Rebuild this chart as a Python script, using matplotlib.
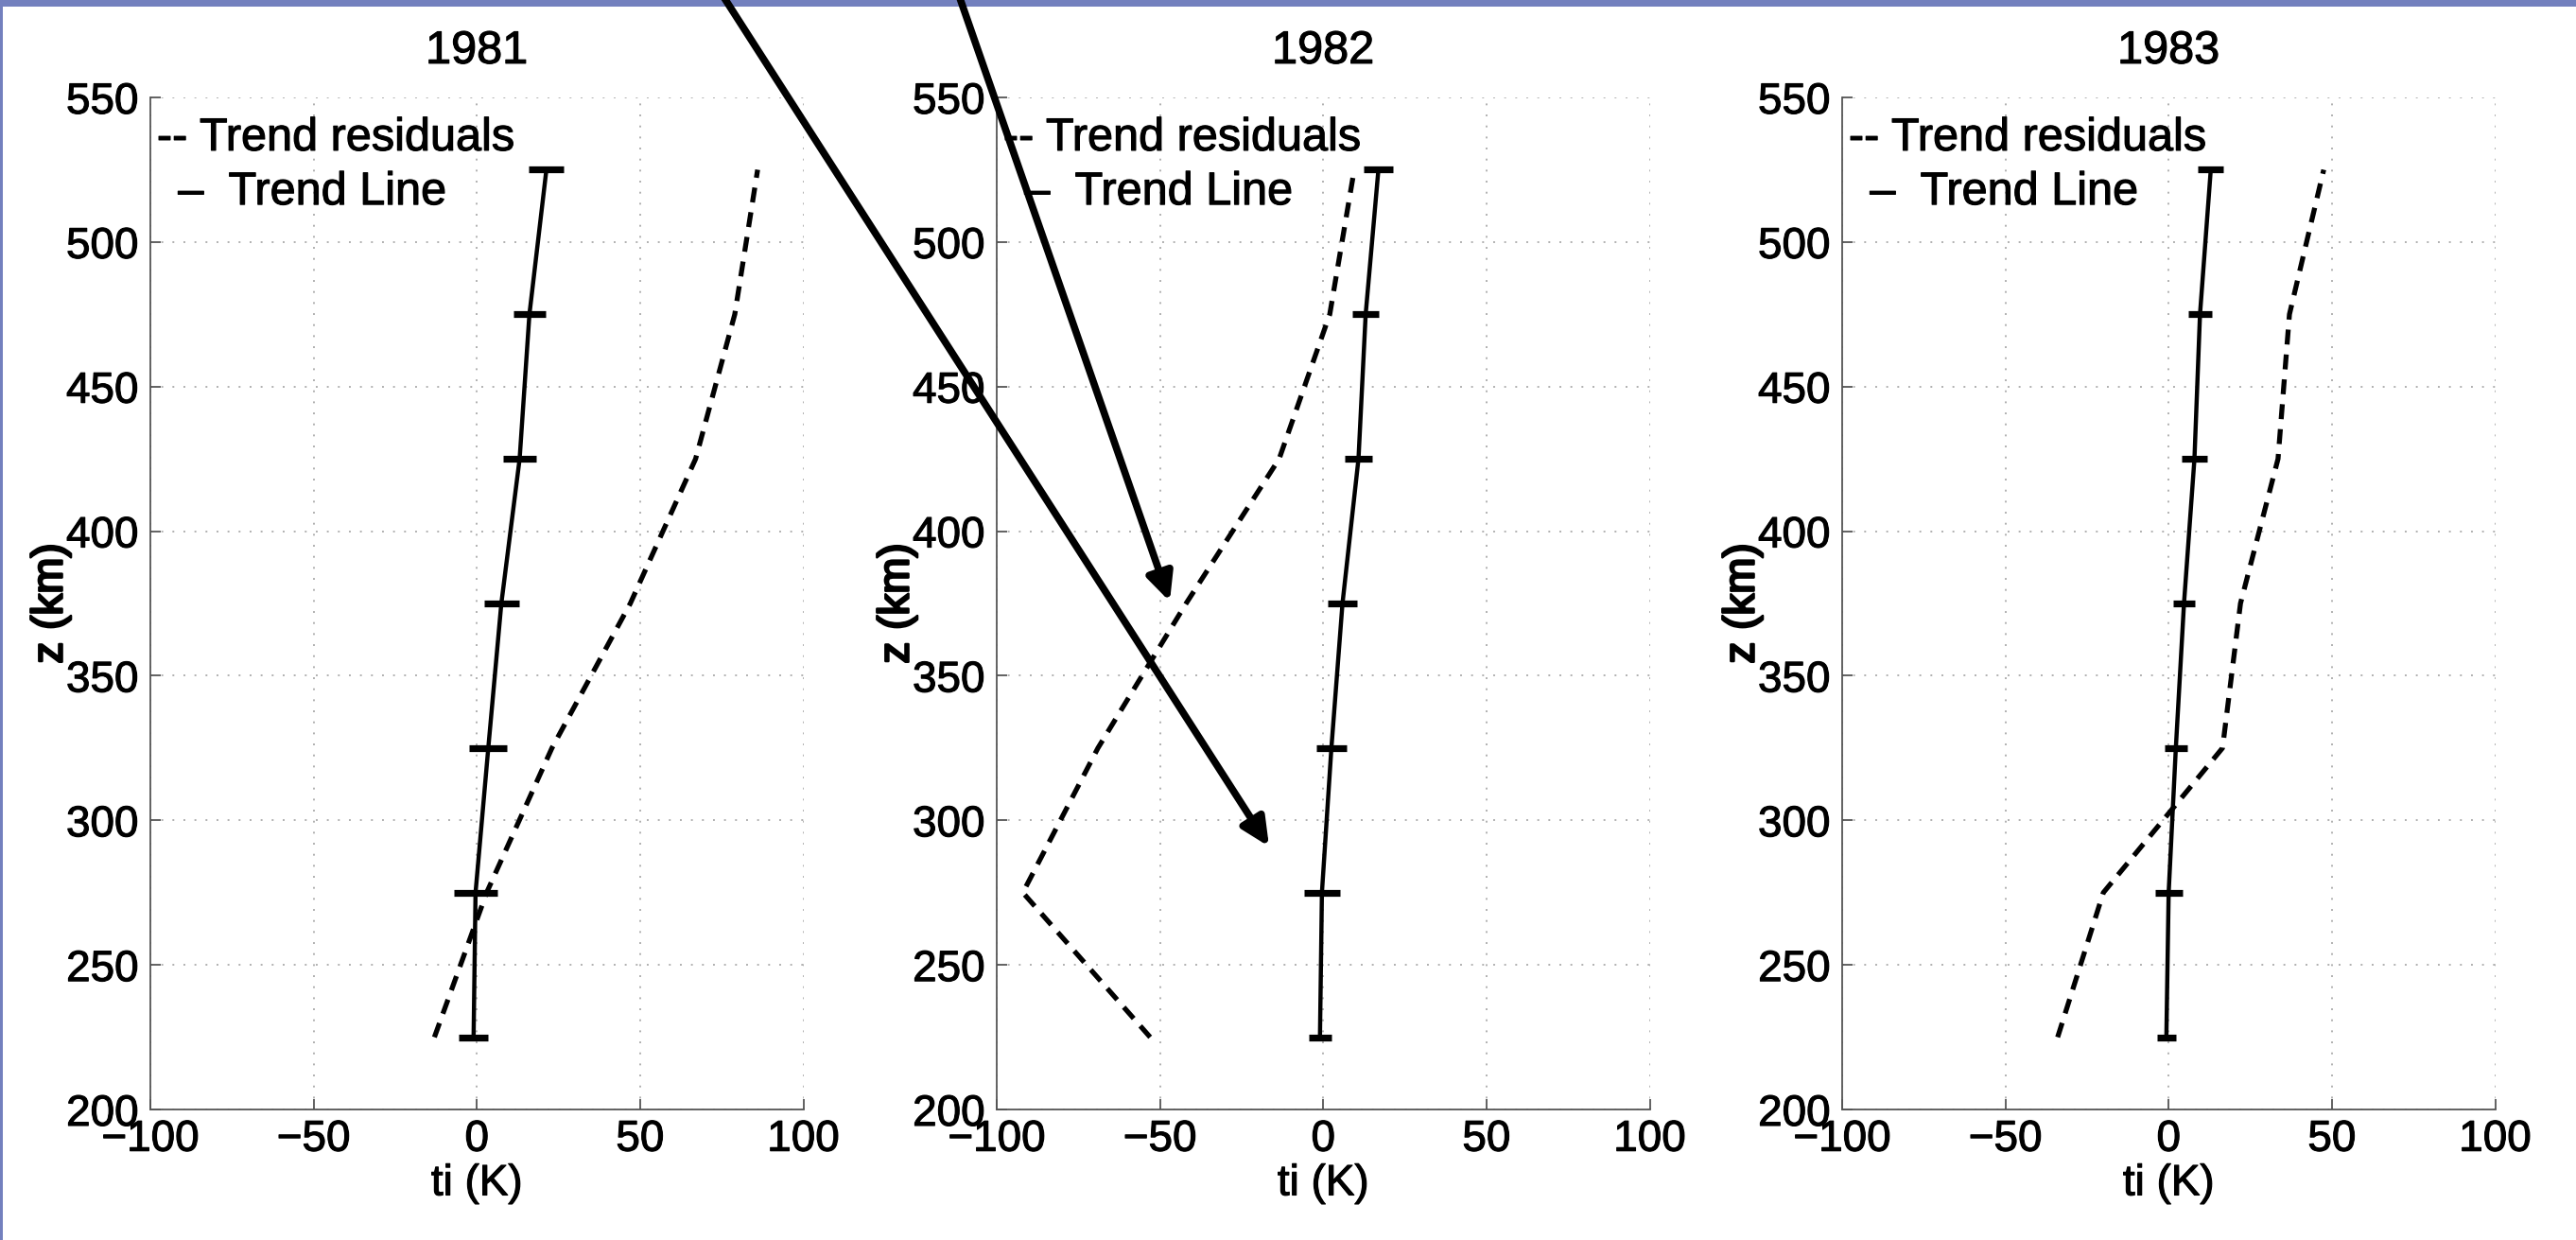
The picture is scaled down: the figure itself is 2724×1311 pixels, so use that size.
import matplotlib
matplotlib.use("Agg")
import matplotlib.pyplot as plt
import matplotlib.patheffects as pe
from matplotlib.patches import FancyArrowPatch, Rectangle

plt.rcParams['font.family'] = ['Liberation Sans', 'DejaVu Sans']

# ---- data ----
years = ["1981", "1982", "1983"]
z_km = [225, 275, 325, 375, 425, 475, 525]

trend_1981 = [-1.0, -0.4, 3.5, 7.5, 13.1, 16.1, 21.3]
err_1981 = [4.5, 6.7, 5.8, 5.4, 5.2, 4.9, 5.4]
resid_1981 = [-13, 3, 23, 47, 67, 79, 86]

trend_1982 = [-1.0, -0.4, 2.5, 5.9, 10.8, 13.0, 16.9]
err_1982 = [3.4, 5.4, 4.6, 4.5, 4.3, 4.1, 4.5]
resid_1982 = [-53, -92, -69, -42, -13.5, 2, 9.5]

trend_1983 = [-0.7, 0.0, 2.2, 4.7, 7.9, 9.6, 12.9]
err_1983 = [2.8, 4.2, 3.5, 3.3, 3.8, 3.7, 3.9]
resid_1983 = [-34, -20, 16.5, 22, 33.5, 37, 47.5]

trends = [trend_1981, trend_1982, trend_1983]
errs = [err_1981, err_1982, err_1983]
resids = [resid_1981, resid_1982, resid_1983]

x_ticks = [-100, -50, 0, 50, 100]
y_ticks = [200, 250, 300, 350, 400, 450, 500, 550]
legend_resid = "-- Trend residuals"
legend_trend = "–  Trend Line"
x_label = "ti (K)"
y_label = "z (km)"

W, H = 2724, 1311
fig = plt.figure(figsize=(W / 100, H / 100), dpi=100)
fig.patch.set_facecolor("white")

thick = [pe.withStroke(linewidth=0.8, foreground="black")]
thick_y = [pe.withStroke(linewidth=1.8, foreground="black")]

ax_left_px = [159, 1054, 1948]
ax_w_px = 690.5
ax_top_px, ax_bot_px = 103, 1173

for i in range(3):
    ax = fig.add_axes([ax_left_px[i] / W, 1 - ax_bot_px / H,
                       ax_w_px / W, (ax_bot_px - ax_top_px) / H])
    ax.set_xlim(-100, 100)
    ax.set_ylim(200, 550)
    ax.set_xticks(x_ticks)
    ax.set_yticks(y_ticks)
    ax.grid(True, color="#b0b0b0", linestyle=(0, (1, 5)), linewidth=1.4)
    ax.set_axisbelow(True)
    for s in ["top", "right"]:
        ax.spines[s].set_visible(False)
    for s in ["left", "bottom"]:
        ax.spines[s].set_color("#555555")
        ax.spines[s].set_linewidth(1.3)
    ax.tick_params(direction="in", length=8, width=1.3, color="#555555",
                   labelsize=33)
    ax.tick_params(axis="x", pad=7)
    ax.tick_params(axis="y", pad=9)
    for lab in ax.get_xticklabels() + ax.get_yticklabels():
        lab.set_path_effects(thick)

    ax.plot(resids[i], z_km, color="black", linewidth=3.8,
            linestyle=(0, (3.0, 2.0)))
    ax.errorbar(trends[i], z_km, xerr=errs[i], fmt="-", color="black",
                linewidth=3.2, elinewidth=5.2, capsize=0)

    t = ax.set_title(years[i], fontsize=35, pad=26)
    t.set_path_effects(thick)
    xl = ax.set_xlabel(x_label, fontsize=33, labelpad=2)
    xl.set_path_effects(thick)
    yl = ax.set_ylabel(y_label, fontsize=33, labelpad=-4)
    yl.set_path_effects(thick_y)

    t1 = ax.text(-98, 531.7, legend_resid, fontsize=35, ha="left", va="baseline")
    t2 = ax.text(-91.5, 513, legend_trend, fontsize=35, ha="left", va="baseline")
    t1.set_path_effects(thick)
    t2.set_path_effects(thick)

# slide frame (blue border)
frame_color = "#7380BE"
fig.add_artist(Rectangle((0, 1 - 7 / H), 1, 7 / H, transform=fig.transFigure,
                         facecolor=frame_color, edgecolor="none", zorder=5))
fig.add_artist(Rectangle((0, 0), 3 / W, 1, transform=fig.transFigure,
                         facecolor=frame_color, edgecolor="none", zorder=5))

# annotation arrows
def fig_pt(px, py):
    return (px / W, 1 - py / H)

for start, end in [((766, -2), (1342, 895)), ((1015, -2), (1237, 636))]:
    arr = FancyArrowPatch(fig_pt(*start), fig_pt(*end), transform=fig.transFigure,
                          arrowstyle="-|>,head_length=0.8,head_width=0.38",
                          mutation_scale=22, linewidth=5.5, color="black",
                          shrinkA=0, shrinkB=0, zorder=10)
    fig.add_artist(arr)

fig.savefig("out.png", dpi=100, facecolor="white")
